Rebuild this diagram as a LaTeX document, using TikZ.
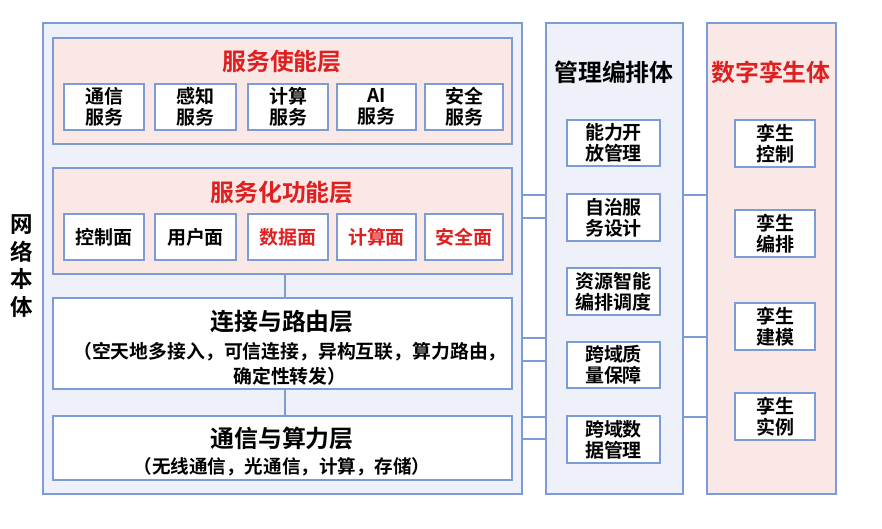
\documentclass[tikz,border=0pt]{standalone}
\usepackage{fontspec}
\setmainfont{Noto Sans CJK SC}[BoldFont={Noto Sans CJK SC Bold}]
\definecolor{edgeblue}{RGB}{125,155,212}
\definecolor{paleblue}{RGB}{238,241,250}
\definecolor{palepink}{RGB}{250,232,230}
\definecolor{titlered}{RGB}{222,32,32}
\tikzset{
  panel/.style={draw=edgeblue, line width=1.2pt, inner sep=0pt},
  itembox/.style={draw=edgeblue, line width=1.2pt, fill=white, inner sep=0pt,
    align=center, font=\fontsize{13.5}{15}\selectfont\bfseries},
  link/.style={draw=edgeblue, line width=1.2pt},
  title/.style={font=\fontsize{17}{19}\selectfont\bfseries}
}
\newcommand{\pbox}[6]{% name, x1, y1, x2, y2, style
  \node[#6, minimum width={(#4-#2)*0.025cm}, minimum height={(#5-#3)*0.025cm}]
    (#1) at ({(#2+#4)/2},{(#3+#5)/2}) {};}
\begin{document}
\begin{tikzpicture}[x=0.025cm, y=-0.025cm]
\useasboundingbox (0,0) rectangle (882,528);

% network body
\pbox{body}{43}{23}{522}{494}{panel, fill=paleblue}
\node[title, align=center, font=\fontsize{16}{19.5}\selectfont\bfseries] (bodylabel) at (22,266) {网\\络\\本\\体};

% service enabling layer
\pbox{enable}{53}{38}{512}{144}{panel, fill=palepink}
\node[title, text=titlered] (enabletitle) at (282,62) {服务使能层};
\pbox{esa}{64}{84}{144}{130}{itembox}
\pbox{esb}{155}{84}{236}{130}{itembox}
\pbox{esc}{248}{84}{328}{130}{itembox}
\pbox{esd}{337}{84}{416}{130}{itembox}
\pbox{ese}{425}{84}{503}{130}{itembox}
\node[itembox, draw=none, fill=none] at (esa) {通信\\服务};
\node[itembox, draw=none, fill=none] at (esb) {感知\\服务};
\node[itembox, draw=none, fill=none] at (esc) {计算\\服务};
\node[itembox, draw=none, fill=none] at (esd) {AI\\服务};
\node[itembox, draw=none, fill=none] at (ese) {安全\\服务};

% service function layer
\pbox{func}{53}{168}{512}{274}{panel, fill=palepink}
\node[title, text=titlered] (functitle) at (282,192) {服务化功能层};
\pbox{fpa}{64}{214}{144}{260}{itembox}
\pbox{fpb}{155}{214}{236}{260}{itembox}
\pbox{fpc}{248}{214}{328}{260}{itembox}
\pbox{fpd}{337}{214}{416}{260}{itembox}
\pbox{fpe}{425}{214}{503}{260}{itembox}
\node[itembox, draw=none, fill=none] at (fpa) {控制面};
\node[itembox, draw=none, fill=none] at (fpb) {用户面};
\node[itembox, draw=none, fill=none, text=titlered] at (fpc) {数据面};
\node[itembox, draw=none, fill=none, text=titlered] at (fpd) {计算面};
\node[itembox, draw=none, fill=none, text=titlered] at (fpe) {安全面};

% connection and routing layer
\pbox{route}{53}{298}{512}{389}{panel, fill=white}
\node[title] (routetitle) at (282,322) {连接与路由层};
\node[align=center, font=\fontsize{13.4}{18}\selectfont\bfseries] (routetext) at (290,364)
  {（空天地多接入，可信连接，异构互联，算力路由，\\确定性转发）};

% communication and computing layer
\pbox{comm}{53}{416}{512}{480}{panel, fill=white}
\node[title] (commtitle) at (282,438) {通信与算力层};
\node[font=\fontsize{13.2}{15}\selectfont\bfseries] (commtext) at (282,467) {（无线通信，光通信，计算，存储）};

\draw[link] (func.south -| 285,0) -- (route.north -| 285,0);
\draw[link] (route.south -| 285,0) -- (comm.north -| 285,0);

% management column
\pbox{mgmt}{546}{23}{683}{494}{panel, fill=paleblue}
\node[title] (mgmttitle) at (614,72) {管理编排体};
\pbox{mga}{567}{120}{660}{166}{itembox}
\pbox{mgb}{567}{194}{660}{241}{itembox}
\pbox{mgc}{567}{268}{660}{315}{itembox}
\pbox{mgd}{567}{342}{660}{388}{itembox}
\pbox{mge}{567}{416}{660}{463}{itembox}
\node[itembox, draw=none, fill=none] at (mga) {能力开\\放管理};
\node[itembox, draw=none, fill=none] at (mgb) {自治服\\务设计};
\node[itembox, draw=none, fill=none] at (mgc) {资源智能\\编排调度};
\node[itembox, draw=none, fill=none] at (mgd) {跨域质\\量保障};
\node[itembox, draw=none, fill=none] at (mge) {跨域数\\据管理};

% digital twin column
\pbox{twin}{707}{23}{836}{494}{panel, fill=palepink}
\node[title, text=titlered] (twintitle) at (771,72) {数字孪生体};
\pbox{twa}{735}{120}{815}{167}{itembox}
\pbox{twb}{735}{210}{815}{257}{itembox}
\pbox{twc}{735}{303}{815}{350}{itembox}
\pbox{twd}{735}{393}{815}{440}{itembox}
\node[itembox, draw=none, fill=none] at (twa) {孪生\\控制};
\node[itembox, draw=none, fill=none] at (twb) {孪生\\编排};
\node[itembox, draw=none, fill=none] at (twc) {孪生\\建模};
\node[itembox, draw=none, fill=none] at (twd) {孪生\\实例};

% links between columns
\foreach \y in {195,218,338,361,417,439}
  \draw[link] (body.east |- 0,\y) -- (mgmt.west |- 0,\y);
\foreach \y in {195,337,417}
  \draw[link] (mgmt.east |- 0,\y) -- (twin.west |- 0,\y);
\end{tikzpicture}
\end{document}
